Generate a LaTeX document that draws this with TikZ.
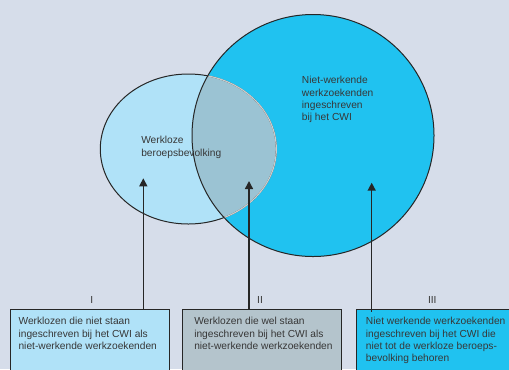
\documentclass[tikz,border=0pt]{standalone}
\usepackage{fontspec}
\setmainfont{Liberation Sans}
\usetikzlibrary{arrows.meta,calc}
\definecolor{bggray}{RGB}{214,221,234}
\definecolor{cwiblue}{RGB}{32,194,240}
\definecolor{wlblue}{RGB}{176,226,248}
\definecolor{overlap}{RGB}{155,195,211}
\definecolor{midgray}{RGB}{180,196,204}
\definecolor{txtgray}{RGB}{55,55,55}
\tikzset{
  boxtext/.style={anchor=north west,inner sep=0pt,align=left,text=txtgray,font=\fontsize{7.65}{9.3}\selectfont},
  groupbox/.style={draw=black!85,line width=0.8pt,anchor=north west,minimum height=52.5pt,inner sep=0pt},
  roman/.style={inner sep=0pt,text=txtgray,font=\fontsize{7.65}{9.3}\selectfont},
  pointer/.style={line width=1.1pt,draw=black!85,-{Triangle[length=6pt,width=6pt]}}
}
\begin{document}
\begin{tikzpicture}[x=0.75pt,y=0.75pt,yscale=-1,xscale=1]
    \useasboundingbox (0,0) rectangle (509,369);
    \fill[bggray] (0,0) rectangle (509,369);
    \clip (0,0) rectangle (509,369);
    % sets
    \fill[cwiblue] (313,135.5) circle (121);
    \fill[wlblue] (188.3,149) ellipse (88 and 75);
    \begin{scope}
        \clip (313,135.5) circle (121);
        \fill[overlap] (188.3,149) ellipse (88 and 75);
    \end{scope}
    \draw[line width=0.75pt,black!85] (188.3,149) ellipse (88 and 75);
    \begin{scope}
        \clip (313,135.5) circle (121);
        \draw[line width=0.9pt,black!20] (188.3,149) ellipse (88 and 75);
    \end{scope}
    \draw[line width=0.75pt,black!85] (313,135.5) circle (121);
    \node[boxtext] (wlbtext) at (141,136) {Werkloze\\beroepsbevolking};
    \node[boxtext] (cwitext) at (301.7,76) {Niet-werkende\\werkzoekenden\\ingeschreven\\bij het CWI};
    % groups
    \node[groupbox,fill=wlblue,minimum width=119.25pt] (boxI) at (10,309) {};
    \node[groupbox,fill=midgray,minimum width=119pt] (boxII) at (182.3,309) {};
    \node[groupbox,fill=cwiblue,minimum width=127.5pt] (boxIII) at (356,309) {};
    \node[roman] (labI) at (91.7,300) {I};
    \node[roman] (labII) at (260,300) {II};
    \node[roman] (labIII) at (432.3,300) {III};
    \node[boxtext] (textI) at ($(boxI.north west)+(8.3,8)$) {Werklozen die niet staan\\ingeschreven bij het CWI als\\niet-werkende werkzoekenden};
    \node[boxtext] (textII) at ($(boxII.north west)+(11.7,8)$) {Werklozen die wel staan\\ingeschreven bij het CWI als\\niet-werkende werkzoekenden};
    \node[boxtext] (textIII) at ($(boxIII.north west)+(9.7,8)$) {Niet werkende werkzoekenden\\ingeschreven bij het CWI die\\niet tot de werkloze beroeps-\\bevolking behoren};
    % pointers
    \coordinate (tipI) at (143.3,178.3);
    \coordinate (tipII) at (249,181);
    \coordinate (tipIII) at (371.7,182.7);
    \draw[pointer] (boxI.north -| tipI) -- (tipI);
    \draw[pointer] (boxII.north -| tipII) -- (tipII);
    \draw[pointer] ($(boxIII.north -| tipIII)+(0,2.5)$) -- (tipIII);
\end{tikzpicture}
\end{document}
